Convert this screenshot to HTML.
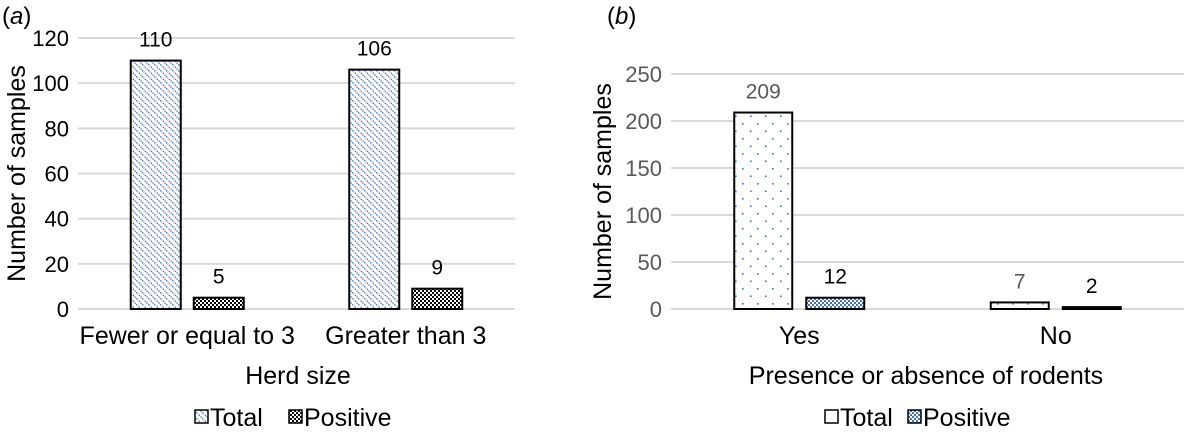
<!DOCTYPE html>
<html><head><meta charset="utf-8"><style>
body{margin:0;background:#fff;}
svg{display:block;font-family:"Liberation Sans",Arial,sans-serif;}
</style></head><body>
<svg id="svg" width="1186" height="434" viewBox="0 0 1186 434" xmlns="http://www.w3.org/2000/svg">
<defs>
<pattern id="pDiag" width="6" height="6" patternUnits="userSpaceOnUse">
<rect width="6" height="6" fill="#fff"/>
<path d="M-1,-1 L7,7 M-1,5 L1,7 M5,-1 L7,1" stroke="#4472c4" stroke-width="1.3" stroke-dasharray="1.5,1"/>
</pattern>
<pattern id="pCheckK" width="4" height="4" patternUnits="userSpaceOnUse">
<rect width="4" height="4" fill="#fff"/><rect width="2" height="2" fill="#000"/><rect x="2" y="2" width="2" height="2" fill="#000"/>
</pattern>
<pattern id="pCheckB" width="4" height="4" patternUnits="userSpaceOnUse">
<rect width="4" height="4" fill="#fff"/><rect width="2" height="2" fill="#4472c4"/><rect x="2" y="2" width="2" height="2" fill="#4472c4"/>
</pattern>
<pattern id="pDots" width="15" height="15" patternUnits="userSpaceOnUse">
<rect width="15" height="15" fill="#fff"/><rect x="7" y="3" width="1.6" height="1.6" fill="#4472c4"/><rect x="0" y="10.5" width="1.6" height="1.6" fill="#4472c4"/>
</pattern>
</defs>
<text x="2" y="24" font-size="24">(<tspan font-style="italic">a</tspan>)</text>
<text x="607" y="24" font-size="24">(<tspan font-style="italic">b</tspan>)</text>
<g id="ga"></g><g id="gb"></g>
</svg>
<script>
const catsA = ["Fewer or equal to 3", "Greater than 3"];
const totalA = [110, 106];
const positiveA = [5, 9];
const ticksA = [0, 20, 40, 60, 80, 100, 120];
const catsB = ["Yes", "No"];
const totalB = [209, 7];
const positiveB = [12, 2];
const ticksB = [0, 50, 100, 150, 200, 250];

const NS = "http://www.w3.org/2000/svg";
function mk(parent, tag, attrs, txt){
  const e = document.createElementNS(NS, tag);
  for (const k in attrs) e.setAttribute(k, attrs[k]);
  if (txt !== undefined) e.textContent = txt;
  parent.appendChild(e);
  return e;
}
function drawChart(g, o){
  const y = v => o.y0 - (v - 0) / o.max * (o.y0 - o.yTop);
  const cw = (o.x1 - o.x0) / o.cats.length;
  o.ticks.forEach(t => {
    const l = mk(g, "line", {x1:o.x0, x2:o.x1, y1:y(t), y2:y(t), stroke:"#d9d9d9", "stroke-width":2});
    
    
    const tx = mk(g, "text", {x:o.x0 - 9, y:y(t) + 8, "font-size":22, "text-anchor":"end", fill:o.tickColor}, t);
    
    
  });
  o.cats.forEach((c, i) => {
    const cx = o.x0 + cw * (i + 0.5);
    [[o.s1, o.f1, -1, o.lc1], [o.s2, o.f2, 1, o.lc2]].forEach(([arr, fill, side, lc], j) => {
      const v = arr[i];
      const bx = side < 0 ? cx - o.gap/2 - o.bw : cx + o.gap/2;
      const r = mk(g, "rect", {x:bx, y:y(v), width:o.bw, height:Math.max(y(0) - y(v), 0.5), fill:fill, stroke:"#000", "stroke-width":2});
      
      
      const lb = mk(g, "text", {x:bx + o.bw/2, y:y(v) - 14, "font-size":21, "text-anchor":"middle", fill:lc}, v);
      
      
    });
    const cl = mk(g, "text", {x:cx, y:o.y0 + 35, "font-size":25, "text-anchor":"middle"}, c);
    
    
  });
  const yt = mk(g, "text", {x:0, y:0, "font-size":25, "text-anchor":"middle", transform:`translate(${o.ytX},${(o.y0+o.yTop)/2}) rotate(-90)`}, "Number of samples");
  
  
  const xt = mk(g, "text", {x:o.xtX, y:384, "font-size":25, "text-anchor":"middle"}, o.xTitle);
  
  
  o.legend.forEach(([lx, fill, name]) => {
    const s = mk(g, "rect", {x:lx, y:410, width:13, height:13, fill:fill, stroke:"#000", "stroke-width":1.5});
    
    
    const t = mk(g, "text", {x:lx + 15, y:426, "font-size":25}, name);
    
    
  });
}
drawChart(document.getElementById("ga"), {
  cats:catsA, s1:totalA, s2:positiveA, ticks:ticksA, max:120,
  x0:78, x1:515, y0:309, yTop:38, bw:50, gap:13,
  f1:"url(#pDiag)", f2:"url(#pCheckK)", lc1:"#000", lc2:"#000", tickColor:"#000",
  ytX:25, xtX:298, xTitle:"Herd size",
  legend:[[195,"url(#pDiag)","Total"],[289,"url(#pCheckK)","Positive"]]
});
drawChart(document.getElementById("gb"), {
  cats:catsB, s1:totalB, s2:positiveB, ticks:ticksB, max:250,
  x0:671, x1:1184, y0:309, yTop:74, bw:58, gap:14,
  f1:"url(#pDots)", f2:"url(#pCheckB)", lc1:"#595959", lc2:"#000", tickColor:"#595959",
  ytX:611, xtX:926, xTitle:"Presence or absence of rodents",
  legend:[[825,"#fff","Total"],[908,"url(#pCheckB)","Positive"]]
});
</script>
</body></html>
